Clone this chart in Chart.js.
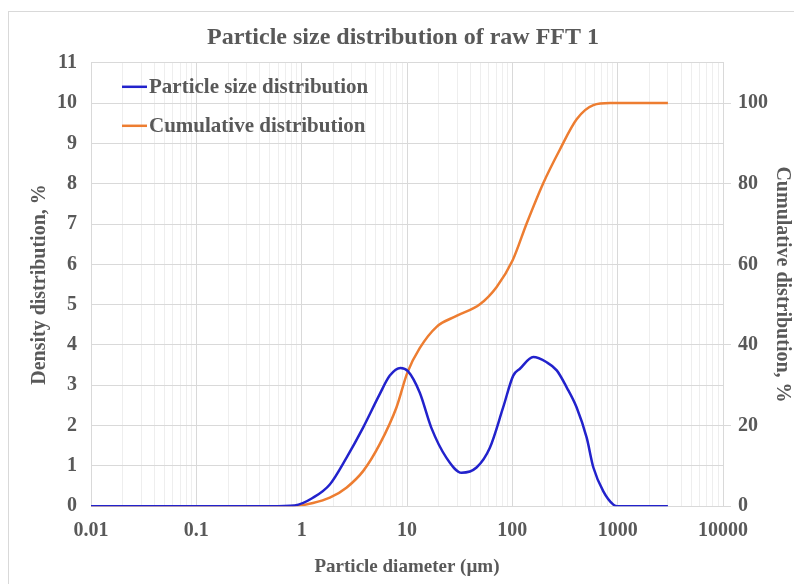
<!DOCTYPE html>
<html>
<head>
<meta charset="utf-8">
<title>Particle size distribution</title>
<script src="https://cdn.jsdelivr.net/npm/chart.js@4.4.1/dist/chart.umd.min.js"></script>
<style>
  html, body { margin: 0; padding: 0; background: #fff; }
  #frame { position: absolute; left: 8px; top: 11px; width: 900px; height: 700px; border: 1px solid #d9d9d9; }
  #wrap { position: absolute; left: 0; top: 0; width: 794px; height: 584px; }
</style>
</head>
<body>
<div id="frame"></div>
<div id="wrap"><canvas id="myChart" width="794" height="584"></canvas></div>
<script>
// particle diameter (um) and density distribution (%)
const sizesDensity = [0.01, 0.5, 0.86, 1.28, 1.85, 2.66, 3.83, 5.51, 6.87, 8.67, 10.2, 13.2, 17.0, 23.7, 33, 45.7, 61.2, 81.8, 102, 118, 158, 212, 264, 328, 408, 508, 588, 731, 910, 1000, 3000];
const density      = [0, 0, 0.02, 0.21, 0.54, 1.2, 1.95, 2.78, 3.24, 3.43, 3.35, 2.82, 1.95, 1.2, 0.83, 0.96, 1.45, 2.45, 3.24, 3.41, 3.70, 3.57, 3.37, 2.95, 2.45, 1.70, 0.96, 0.37, 0.04, 0, 0];

// particle diameter (um) and cumulative distribution (%)
const sizesCumulative = [0.01, 0.5, 0.8, 1.28, 1.85, 2.66, 3.83, 5.51, 7.94, 10.1, 13.2, 19.1, 29.5, 49.2, 71, 100.7, 137, 197, 283, 408, 588, 847, 3000];
const cumulative      = [0, 0, 0, 0.8, 2.1, 4.6, 8.7, 15.4, 24.5, 33.2, 39.2, 44.5, 47.2, 50.1, 54.4, 61, 70.2, 80.2, 88.5, 96, 99.5, 100, 100];

const xTickLabels = [0.01, 0.1, 1, 10, 100, 1000, 10000];
const y1TickLabels = [0, 20, 40, 60, 80, 100];

const serif = "'Liberation Serif', 'Times New Roman', serif";
const textColor = '#595959';

// legend drawn inside the plot, top left
const insideLegend = {
  id: 'insideLegend',
  afterDatasetsDraw(chart) {
    const ctx = chart.ctx;
    const area = chart.chartArea;
    ctx.save();
    chart.data.datasets.forEach(function (ds, i) {
      const y = area.top + 24 + i * 39;
      ctx.strokeStyle = ds.borderColor;
      ctx.lineWidth = 2.5;
      ctx.beginPath();
      ctx.moveTo(area.left + 31, y);
      ctx.lineTo(area.left + 56, y);
      ctx.stroke();
      ctx.fillStyle = textColor;
      ctx.font = 'bold 21px ' + serif;
      ctx.textBaseline = 'middle';
      ctx.textAlign = 'left';
      ctx.fillText(ds.label, area.left + 58, y + 1);
    });
    ctx.restore();
  }
};

new Chart('myChart', {
  type: 'line',
  data: {
    datasets: [{
      label: 'Particle size distribution',
      data: sizesDensity.map((x, i) => ({ x: x, y: density[i] })),
      borderColor: '#2222cc',
      borderWidth: 2.5,
      pointRadius: 0,
      cubicInterpolationMode: 'monotone',
      yAxisID: 'y'
    }, {
      label: 'Cumulative distribution',
      data: sizesCumulative.map((x, i) => ({ x: x, y: cumulative[i] })),
      borderColor: '#ed7d31',
      borderWidth: 2.5,
      pointRadius: 0,
      cubicInterpolationMode: 'monotone',
      yAxisID: 'y1'
    }]
  },
  options: {
    responsive: false,
    animation: false,
    layout: { padding: { left: 12, right: 0, top: 0, bottom: 0 } },
    plugins: {
      legend: { display: false },
      tooltip: { enabled: false },
      title: {
        display: true,
        text: 'Particle size distribution of raw FFT 1',
        color: textColor,
        font: { family: serif, size: 24, weight: 'bold' },
        padding: { top: 23, bottom: 11 }
      }
    },
    scales: {
      x: {
        type: 'logarithmic',
        min: 0.01,
        max: 10000,
        afterBuildTicks(axis) {
          const ticks = [];
          xTickLabels.forEach(function (v, i) {
            ticks.push({ value: v, major: true });
            if (i < xTickLabels.length - 1) {
              for (let k = 2; k <= 9; k++) ticks.push({ value: v * k, major: false });
            }
          });
          axis.ticks = ticks;
        },
        ticks: {
          autoSkip: false,
          maxRotation: 0,
          padding: 13,
          color: textColor,
          font: { family: serif, size: 20, weight: 'bold' },
          callback: function (value, index, ticks) {
            return ticks[index].major ? String(value) : '';
          }
        },
        grid: {
          drawTicks: false,
          color: c => (c.tick && c.tick.major) ? '#d9d9d9' : '#eeeeee'
        },
        border: { color: '#d9d9d9' },
        title: {
          display: true,
          text: 'Particle diameter (\u00b5m)',
          color: textColor,
          font: { family: serif, size: 19, weight: 'bold' },
          padding: { top: -1, bottom: 6 }
        }
      },
      y: {
        position: 'left',
        min: 0,
        max: 11,
        ticks: {
          stepSize: 1,
          padding: 14,
          color: textColor,
          font: { family: serif, size: 20, weight: 'bold' }
        },
        grid: { drawTicks: false, color: '#d9d9d9' },
        border: { color: '#d9d9d9' },
        title: {
          display: true,
          text: 'Density distribution, %',
          color: textColor,
          font: { family: serif, size: 20, weight: 'bold' },
          padding: { top: 16, bottom: -9 }
        }
      },
      y1: {
        position: 'right',
        min: 0,
        max: 110,
        afterBuildTicks(axis) {
          axis.ticks = y1TickLabels.map(v => ({ value: v }));
        },
        ticks: {
          padding: 7,
          color: textColor,
          font: { family: serif, size: 20, weight: 'bold' }
        },
        grid: { drawOnChartArea: false, drawTicks: true, tickLength: 8, color: '#d9d9d9' },
        border: { color: '#d9d9d9' },
        title: {
          display: true,
          text: 'Cumulative distribution, %',
          color: textColor,
          font: { family: serif, size: 20, weight: 'bold' },
          padding: { top: 0, bottom: -5 }
        }
      }
    }
  },
  plugins: [insideLegend]
});
</script>
</body>
</html>
